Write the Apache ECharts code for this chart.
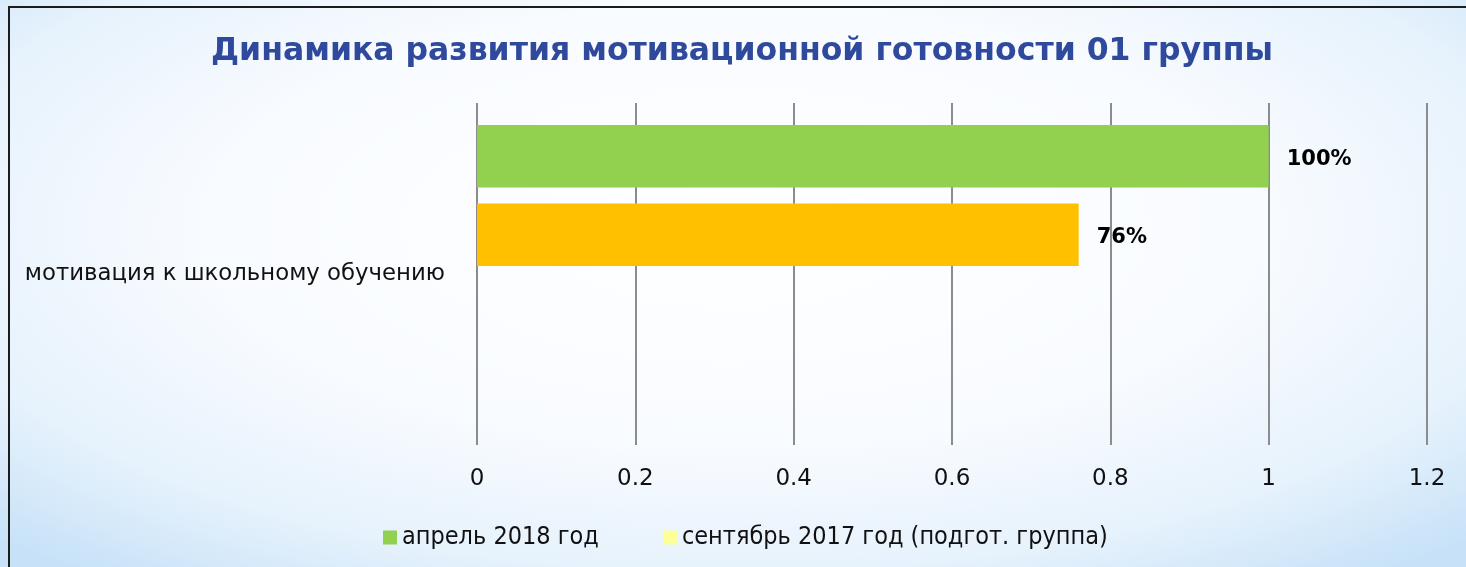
<!DOCTYPE html>
<html>
<head>
<meta charset="utf-8">
<script src="https://cdn.jsdelivr.net/npm/echarts@6/dist/echarts.min.js"></script>
<style>
  html, body {
    margin: 0;
    padding: 0;
    width: 1466px;
    height: 567px;
    overflow: hidden;
  }
  body {
    background: radial-gradient(ellipse 72% 78% at 50% 40%, #ffffff 0%, #f8fbff 50%, #e6f2fc 78%, #c6e1f8 100%);
  }
  #frame {
    position: absolute;
    left: 8px;
    top: 6px;
    right: 0;
    bottom: 0;
    border-left: 2px solid #1c1c1c;
    border-top: 2px solid #1c1c1c;
  }
  #chart {
    position: absolute;
    left: 0;
    top: 0;
    width: 1466px;
    height: 567px;
  }
</style>
</head>
<body>
<div id="frame"></div>
<div id="chart"></div>
<script>
const titleText = 'Динамика развития мотивационной готовности 01 группы';
const categories = ['мотивация к школьному обучению'];
const seriesNames = ['апрель 2018 год', 'сентябрь 2017 год (подгот. группа)'];
const april2018 = [1.0];
const sept2017 = [0.76];
const xMin = 0;
const xMax = 1.2;
const xStep = 0.2;

var chart = echarts.init(document.getElementById('chart'));

function pctLabel(p) {
  return Math.round(p.value * 100) + '%';
}

var labelStyle = {
  show: true,
  position: 'right',
  distance: 18,
  offset: [0, 3],
  formatter: pctLabel,
  color: '#000',
  fontFamily: 'DejaVu Sans',
  fontWeight: 'bold',
  fontSize: 21
};

var option = {
  backgroundColor: 'transparent',
  animation: false,
  title: {
    text: titleText,
    left: 206,
    top: 31,
    textStyle: {
      color: '#2F4A9C',
      fontFamily: 'DejaVu Sans',
      fontWeight: 'bold',
      fontSize: 31.5
    }
  },
  legend: {
    left: 378,
    top: 520,
    itemWidth: 14,
    itemHeight: 14,
    itemGap: 64,
    icon: 'rect',
    textStyle: {
      color: '#111',
      fontFamily: 'DejaVu Sans Condensed',
      fontSize: 25
    },
    data: [
      { name: seriesNames[0], itemStyle: { color: '#92D050' } },
      { name: seriesNames[1], itemStyle: { color: '#FFFF99' } }
    ]
  },
  grid: {
    left: 477,
    right: 39,
    top: 103,
    bottom: 122,
    containLabel: false
  },
  xAxis: {
    type: 'value',
    min: xMin,
    max: xMax,
    interval: xStep,
    axisLine: { show: false },
    axisTick: { show: false },
    axisLabel: {
      color: '#111',
      fontFamily: 'DejaVu Sans',
      fontSize: 23,
      margin: 23
    },
    splitLine: {
      show: true,
      lineStyle: { color: '#8c8c8c', width: 2 }
    }
  },
  yAxis: {
    type: 'category',
    data: categories,
    inverse: true,
    axisLine: { show: false },
    axisTick: { show: false },
    axisLabel: {
      color: '#111',
      fontFamily: 'DejaVu Sans',
      fontSize: 22.8,
      margin: 32
    }
  },
  series: [
    {
      name: seriesNames[0],
      type: 'bar',
      data: april2018,
      itemStyle: { color: '#92D050' },
      label: labelStyle,
      barGap: '25.6%',
      barCategoryGap: '12.9%'
    },
    {
      name: seriesNames[1],
      type: 'bar',
      data: sept2017,
      itemStyle: { color: '#FFC000' },
      label: labelStyle
    },
    { name: 'empty1', type: 'bar', data: [null] },
    { name: 'empty2', type: 'bar', data: [null] }
  ]
};

chart.setOption(option);
</script>
</body>
</html>
